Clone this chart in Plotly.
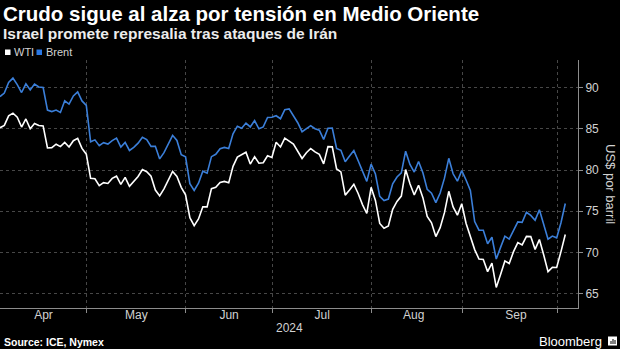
import pandas as pd
import plotly.graph_objects as go

# ---------------- data ----------------
dates = pd.bdate_range("2024-04-02", "2024-10-02").strftime("%Y-%m-%d").tolist()

brent = [
    # Apr
    88.92, 89.35, 90.65, 91.17, 90.38, 89.42, 90.48, 89.74, 90.45, 90.10, 90.02,
    87.29, 87.11, 87.29, 87.00, 88.42, 88.02, 89.01, 89.50, 88.40, 87.86,
    # May
    83.44, 83.67, 82.96, 83.33, 83.16, 83.58, 83.88, 82.79, 83.36, 82.38, 82.75,
    83.27, 83.98, 83.71, 82.88, 82.90, 81.36, 82.12, 83.10, 84.22, 83.60, 81.86, 81.62,
    # Jun
    78.36, 77.52, 78.41, 79.87, 79.62, 81.63, 81.92, 82.60, 82.75, 82.62,
    84.40, 85.33, 85.07, 85.71, 85.24, 86.01, 85.01, 85.25, 86.39, 86.41,
    # Jul
    86.60, 86.24, 87.34, 87.43, 86.54, 85.75, 84.66, 85.08, 85.40, 85.03, 84.85,
    83.73, 85.08, 85.11, 82.63, 82.40, 81.01, 81.71, 82.37, 81.13, 79.78, 78.63, 80.72,
    # Aug
    79.52, 76.81, 76.30, 76.48, 78.33, 79.16, 79.66, 82.30, 80.69, 79.76, 81.04,
    79.68, 77.66, 77.20, 76.05, 77.22, 79.02, 81.43, 79.55, 78.65, 79.94, 78.80,
    # Sep
    77.52, 73.75, 72.70, 72.69, 71.06, 71.84, 69.19, 70.61, 71.97, 71.61, 72.75,
    73.70, 73.65, 74.88, 74.49, 73.90, 75.17, 73.46, 71.60, 71.98, 71.77,
    # Oct
    73.60, 75.94,
]

wti = [
    # Apr
    85.15, 85.43, 86.59, 86.91, 86.43, 85.23, 86.21, 85.02, 85.66, 85.41, 85.36,
    82.69, 82.73, 83.14, 82.85, 83.36, 82.81, 83.57, 83.85, 82.63, 81.93,
    # May
    79.00, 78.95, 78.11, 78.48, 78.38, 78.99, 79.26, 78.26, 79.12, 78.02, 78.63,
    79.23, 80.06, 79.80, 79.26, 77.57, 76.87, 77.72, None, 79.83, 79.23, 77.91, 76.99,
    # Jun
    74.22, 73.25, 74.07, 75.55, 75.53, 77.74, 77.90, 78.50, 78.62, 78.45,
    80.45, 81.57, None, 82.17, 80.73, 81.63, 80.83, 80.90, 81.74, 81.54,
    # Jul
    83.38, 82.81, 83.88, None, 83.16, 82.33, 81.41, 82.10, 82.62, 82.21, 81.91,
    80.76, 82.85, 82.82, 80.13, 79.78, 76.96, 77.59, 78.28, 77.16, 75.81, 74.73, 77.91,
    # Aug
    76.31, 73.52, 72.94, 73.20, 75.23, 76.19, 76.84, 80.06, 78.35, 76.98, 78.16,
    76.65, 74.37, 73.60, 71.93, 73.01, 74.83, 77.42, 75.53, 74.52, 75.91, 73.55,
    # Sep
    None, 70.34, 69.20, 69.15, 67.67, 68.71, 65.75, 67.31, 68.97, 68.65, 70.09,
    71.19, 70.91, 71.95, 71.92, 70.37, 71.56, 69.69, 67.67, 68.18, 68.17,
    # Oct
    70.10, 72.17,
]

series_names = ["WTI", "Brent"]
y_ticks = [65, 70, 75, 80, 85, 90]
month_labels = ["Apr", "May", "Jun", "Jul", "Aug", "Sep"]

title = "Crudo sigue al alza por tensión en Medio Oriente"
subtitle = "Israel promete represalia tras ataques de Irán"
y_title = "US$ por barril"
year_label = "2024"
source = "Source: ICE, Nymex"

# ---------------- figure ----------------
W, H = 620, 349
ML, MR, MT, MB = 0, 42, 60, 41
PW, PH = W - ML - MR, H - MT - MB

def px(x):
    return (x - ML) / PW

def py(y):
    return (H - MB - y) / PH

# points are drawn at the close of each trading day
xs = pd.to_datetime(dates) + pd.Timedelta(hours=22)
x_range = ["2024-04-02 22:00", "2024-10-07 20:40"]
# month labels centred in the visible part of each month
label_pos = ["2024-04-17 00:00", "2024-05-16 12:00", "2024-06-17 00:00",
             "2024-07-16 14:00", "2024-08-14 19:00", "2024-09-17 12:00"]

WHITE = "#ffffff"
BLUE = "#3b7fd9"
LEG_BLUE = "#2a78e4"
GRID = "#474747"
AXIS = "#8c8c8c"
TXT = "#d2d2d2"
FONT = "Liberation Sans"

fig = go.Figure()
fig.add_trace(go.Scatter(x=xs, y=brent, name=series_names[1], mode="lines",
                         line=dict(color=BLUE, width=1.6), connectgaps=True))
fig.add_trace(go.Scatter(x=xs, y=wti, name=series_names[0], mode="lines",
                         line=dict(color=WHITE, width=1.6), connectgaps=True))

fig.update_layout(
    width=W, height=H,
    margin=dict(l=ML, r=MR, t=MT, b=MB, pad=0),
    paper_bgcolor="black", plot_bgcolor="black",
    showlegend=False,
    font=dict(family=FONT, color=TXT, size=12),
)

fig.update_xaxes(
    type="date",
    range=x_range,
    rangebreaks=[dict(bounds=["sat", "mon"])],
    tickmode="array", tickvals=label_pos, ticktext=month_labels,
    ticks="", showgrid=False,
    ticklabelstandoff=-4,
    minor=dict(tick0="2024-04-01", dtick="M1", showgrid=True, gridcolor=GRID,
               griddash="dot", gridwidth=1, ticks="outside", ticklen=4,
               tickcolor=AXIS),
    showline=True, linecolor=AXIS, linewidth=1,
    tickfont=dict(size=12, color=TXT, family=FONT),
    zeroline=False, fixedrange=True,
)

fig.update_yaxes(
    side="right",
    range=[63.25, 93.37],
    tickvals=y_ticks, ticktext=[str(v) for v in y_ticks],
    showgrid=True, gridcolor=GRID, griddash="dot", gridwidth=1,
    showline=True, linecolor=AXIS, linewidth=1,
    ticks="outside", ticklen=4, tickcolor=AXIS,
    tickfont=dict(size=12, color=TXT, family=FONT),
    zeroline=False, fixedrange=True,
)

ann = []
ann.append(dict(text="<b>" + title + "</b>", x=px(1), y=py(14), xref="paper", yref="paper",
                xanchor="left", yanchor="middle", showarrow=False,
                font=dict(size=20.5, color=WHITE, family=FONT)))
ann.append(dict(text="<b>" + subtitle + "</b>", x=px(1), y=py(33), xref="paper", yref="paper",
                xanchor="left", yanchor="middle", showarrow=False,
                font=dict(size=15.5, color="#ececec", family=FONT)))
# legend texts
ann.append(dict(text=series_names[0], x=px(12), y=py(52), xref="paper", yref="paper",
                xanchor="left", yanchor="middle", showarrow=False,
                font=dict(size=11, color=TXT, family=FONT)))
ann.append(dict(text=series_names[1], x=px(43.5), y=py(52), xref="paper", yref="paper",
                xanchor="left", yanchor="middle", showarrow=False,
                font=dict(size=11, color=TXT, family=FONT)))
# y title
ann.append(dict(text=y_title, x=px(611), y=py(184), xref="paper", yref="paper",
                xanchor="center", yanchor="middle", showarrow=False, textangle=90,
                font=dict(size=13, color=TXT, family=FONT)))
# year
ann.append(dict(text=year_label, x=px(289), y=py(327.5), xref="paper", yref="paper",
                xanchor="center", yanchor="middle", showarrow=False,
                font=dict(size=12, color=TXT, family=FONT)))
# source
ann.append(dict(text="<b>" + source + "</b>", x=px(2), y=py(342), xref="paper", yref="paper",
                xanchor="left", yanchor="middle", showarrow=False,
                font=dict(size=10.5, color=WHITE, family=FONT)))
# Bloomberg
ann.append(dict(text="Bloomberg", x=px(604), y=py(341), xref="paper", yref="paper",
                xanchor="right", yanchor="middle", showarrow=False,
                font=dict(size=13, color=WHITE, family=FONT)))
fig.update_layout(annotations=ann)

shapes = []
# legend squares
shapes.append(dict(type="rect", xref="paper", yref="paper", x0=px(5), x1=px(10.5),
                   y0=py(49.5), y1=py(55), fillcolor=WHITE, line=dict(width=0)))
shapes.append(dict(type="rect", xref="paper", yref="paper", x0=px(36.5), x1=px(42),
                   y0=py(49.5), y1=py(55), fillcolor=LEG_BLUE, line=dict(width=0)))
# Bloomberg icon
shapes.append(dict(type="rect", xref="paper", yref="paper", x0=px(608), x1=px(617),
                   y0=py(345.5), y1=py(336.5), fillcolor=WHITE, line=dict(width=0)))
for bx, top in [(610.5, 341), (612.5, 339), (614.5, 340)]:
    shapes.append(dict(type="rect", xref="paper", yref="paper", x0=px(bx), x1=px(bx + 1),
                       y0=py(344), y1=py(top), fillcolor="black", line=dict(width=0)))
fig.update_layout(shapes=shapes)

fig.write_html("out.html", config={"displayModeBar": False})
